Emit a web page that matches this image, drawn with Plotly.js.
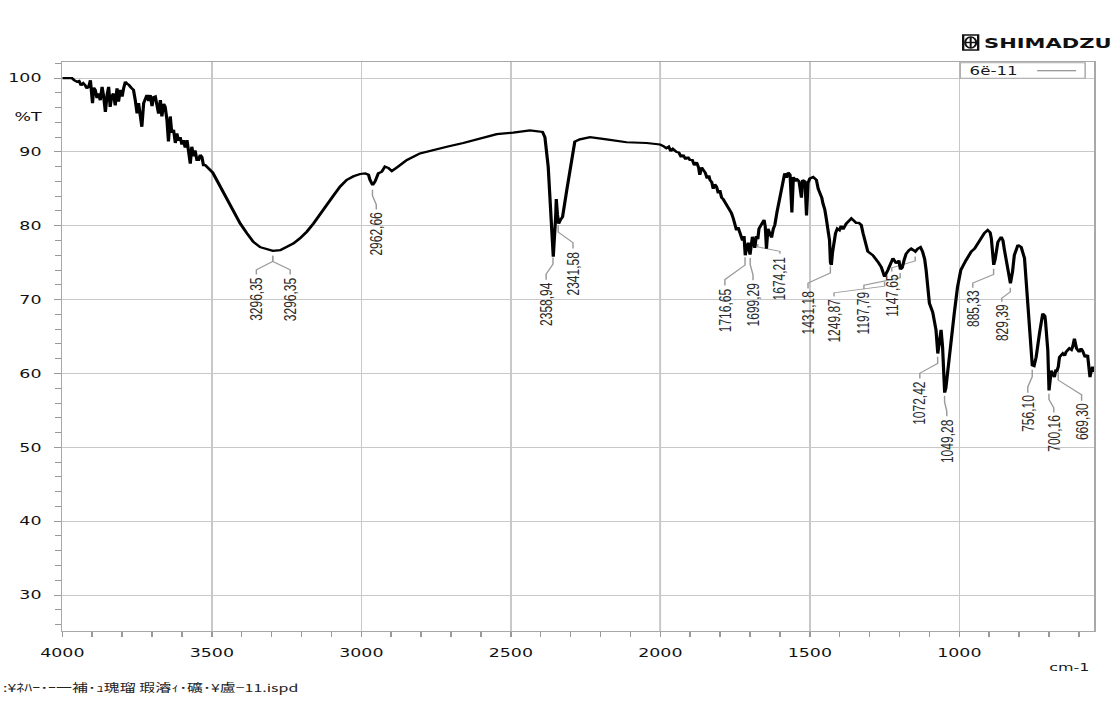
<!DOCTYPE html>
<html><head><meta charset="utf-8">
<script src="https://cdn.plot.ly/plotly-3.0.1.min.js"></script>
<style>
html,body{margin:0;padding:0;background:#fff;overflow:hidden;}
#wrap{width:1113px;height:706px;overflow:hidden;position:relative;background:#fff;}
#plot{width:768px;height:706px;transform:scaleX(1.44922);transform-origin:0 0;}
</style></head><body>
<div id="wrap"><div id="plot"></div></div>
<script>
// ---------------- data (by region) ----------------
const wnA = [4000,3968,3960,3951,3944,3937,3930,3923,3918,3912,3906,3903,3899,3895,3890,3884,3879,3873,3867,3862,
             3856,3850,3845,3840,3835,3829,3823,3817,3812,3806,3800,3795,3789,3783,3778,3770,3762,3756,3750,3745,
             3739,3734,3728,3722,3717,3711,3706,3700,3695,3689,3684,3678,3672,3667,3661,3656,3650,3645,3639,3634,
             3628,3622,3617,3611,3606,3600,3595,3589,3583,3578,3572,3567,3561,3556,3550,3544,3539,3533,3528,3522,
             3514,3505,3497,3489];
const tA  = [100.0,100.0,99.7,99.5,99.6,99.0,99.3,99.0,98.6,98.8,99.7,98.0,96.6,98.7,98.4,97.3,97.9,97.0,98.8,97.6,
             95.4,97.8,98.8,96.1,97.5,97.9,96.3,98.6,96.8,98.4,97.5,98.6,99.5,99.2,99.1,98.7,98.4,97.0,95.2,96.6,
             94.8,93.4,96.6,97.2,97.7,96.9,97.7,96.2,97.4,97.5,96.6,95.2,97.0,94.8,96.5,96.1,94.3,91.4,94.8,92.6,
             93.0,91.2,92.5,91.5,92.0,91.0,91.6,90.6,91.6,90.2,88.4,90.7,89.4,90.2,88.9,88.9,89.6,89.3,88.2,88.2,
             87.9,87.5,87.2,86.6];
const wnB = [3472,3450,3427,3405,3383,3361,3338,3316,3296,3271,3249,3227,3205,3182,3160,3138,3115,3093,3071,3049,
             3026,3004,2987,2976,2971,2962,2954,2943,2932,2921,2909,2898,2881,2848,2804,2759,2714,2659,2603,2547,
             2492,2436,2394,2386,2375,2367,2358,2350,2348,2344,2340,2334,2327,2313,2297,2286,2269,2235,2180,2113,
             2046,2001];
const tB  = [85.3,83.5,81.9,80.3,79.0,77.8,77.1,76.8,76.6,76.7,77.1,77.6,78.3,79.2,80.3,81.6,82.8,84.1,85.3,86.2,
             86.7,87.0,87.1,86.9,86.2,85.5,86.0,87.1,87.3,88.0,87.8,87.4,87.9,88.9,89.8,90.3,90.7,91.2,91.8,92.4,
             92.6,92.9,92.7,92.0,88.0,81.2,75.8,81.2,83.6,81.5,80.3,80.8,81.2,84.8,88.9,91.4,91.7,92.0,91.7,91.3,
             91.2,91.0];
const wnC = [1990,1980,1972,1965,1958,1946,1938,1930,1924,1915,1908,1901,1893,1886,1879,1872,1868,1862,1857,1850,
             1843,1838,1834,1828,1823,1818,1812,1806,1801,1795,1790,1784,1779,1773,1767,1762,1756,1750,1745,1740,
             1734,1728,1725,1720,1716,1711,1706,1700,1695,1692,1688,1684,1679,1674,1670,1662,1653,1649,1645,1640,
             1634,1628,1622,1617,1610,1601,1592,1584,1578,1572,1566,1560,1555,1548,1545,1536,1528,1524,1516,1511,
             1506,1500,1489,1478,1472,1467,1460,1456,1450,1445,1438,1434,1431,1428,1424,1418,1414,1408,1401,1395,
             1389,1378];
const tC  = [90.8,90.5,90.7,90.1,90.4,90.0,89.9,89.3,89.6,89.0,89.3,88.9,88.9,88.2,88.6,87.9,86.9,87.9,87.6,87.2,
             86.4,86.8,86.2,85.9,85.0,85.6,85.3,84.4,84.8,83.8,83.6,83.2,82.8,82.5,81.9,81.7,81.0,80.2,79.4,79.8,
             79.2,78.3,78.0,78.6,76.0,77.0,77.7,76.1,77.5,78.5,78.0,77.0,78.6,78.2,79.6,80.3,80.8,79.9,76.9,79.6,
             79.0,78.4,79.6,80.1,81.8,83.5,85.6,87.1,86.5,87.2,86.9,81.8,86.6,86.0,86.4,86.0,83.8,86.2,86.0,81.4,
             85.8,86.4,86.6,86.2,85.0,84.6,83.8,83.0,82.2,81.0,79.2,78.0,75.0,74.7,76.4,78.4,79.0,79.6,79.4,80.0,
             79.5,80.3];
const wnD = [1370,1361,1353,1345,1336,1328,1322,1317,1306,1289,1280,1272,1261,1250,1239,1230,1222,1211,1202,1197,
             1191,1185,1178,1168,1161,1150,1147,1139,1130,1123,1116,1111,1105,1100,1089,1078,1072,1066,1061,1056,
             1049,1045,1040,1028,1017,1006,995,978,960,949,938,927,916,905,897,893,888,885,880,871,
             860,854,849,838,829,822,816,804,793,782,771,760,756,750,743,732,721,714,712,704,
             700,695,693,688,682,677,673,669,665,654,648,643,632,625,621,615,608,599,593,588,
             579,571,563,558,554,549];
const tD  = [80.6,81.0,80.7,80.4,80.4,80.1,79.0,78.0,76.5,76.0,75.6,75.1,74.4,73.1,74.0,75.0,75.6,74.9,75.3,74.1,
             74.3,75.3,76.2,76.7,76.9,76.6,76.5,76.9,77.1,76.5,75.5,74.0,71.5,69.5,68.3,65.9,62.7,64.5,65.9,63.6,
             57.4,58.0,60.0,64.1,68.1,71.7,74.0,75.3,76.5,76.9,77.6,78.5,79.0,79.4,79.1,78.3,76.0,74.7,75.5,77.8,
             78.5,78.0,76.7,74.4,72.2,73.8,76.0,77.4,77.1,75.6,69.9,64.5,61.1,61.0,62.2,65.4,68.1,67.8,67.2,63.1,
             57.7,59.5,60.4,60.0,59.5,60.5,60.4,60.9,62.2,62.7,62.4,62.9,63.4,63.2,63.6,64.7,63.4,62.9,63.4,63.1,
             62.2,62.5,59.5,60.6,60.9,60.2];
const wavenumber = wnA.concat(wnB, wnC, wnD);
const transmittance = tA.concat(tB, tC, tD);

const seriesName = '6ë-11';
const peakLabels = ['3296,35','3296,35','2962,66','2358,94','2341,58','1716,65','1699,29','1674,21','1431,18','1249,87',
                    '1197,79','1147,65','1072,42','1049,28','885,33','829,39','756,10','700,16','669,30'];
// label placement (wavenumber of label centre, %T of label top)
const labelAtWn = [3351,3238,2950,2382,2292,1784,1690,1600,1506,1419,1319,1226,1132,1042,955,858,771,684,591];
const labelAtT  = [73.2,73.2,82.0,72.5,76.7,71.7,72.4,76.0,71.3,70.2,71.2,73.6,59.1,54.0,71.4,69.5,57.2,54.5,56.1];
const xTickStep = 500, xMinorStep = 100, yTickStep = 10, yMinorStep = 2;
const xRange = [4000, 549], yRange = [25.13, 102.17];

// ---------------- layout constants ----------------
const SX = 1113/768;
const W = 768, H = 706;
const M = {l: 62/SX, r: 19/SX, t: 62, b: 75};
const plotH = H - M.t - M.b;
const tPerPx = (yRange[1]-yRange[0]) / plotH;

function interpT(w){
  for (let i=0;i<wavenumber.length-1;i++){
    const a=wavenumber[i], b=wavenumber[i+1];
    if (w<=a && w>=b){ const f=(a-w)/(a-b); return transmittance[i]+f*(transmittance[i+1]-transmittance[i]); }
  }
  return transmittance[transmittance.length-1];
}

// leader lines from each peak to its label
const lx=[], ly=[];
peakLabels.forEach((txt,i)=>{
  const p = parseFloat(txt.replace(',', '.'));
  const pt = interpT(p);
  const aT = pt - 5*tPerPx;
  const dT = labelAtT[i] + 1.5*tPerPx;
  const gap = (aT - dT)/tPerPx;
  const bT = aT - Math.min(8, gap*0.3)*tPerPx;
  const cT = dT + Math.min(6, gap*0.25)*tPerPx;
  lx.push(p,p,labelAtWn[i],labelAtWn[i],null);
  ly.push(aT,bT,cT,dT,null);
});

const traces = [
  {x: lx, y: ly, mode:'lines', line:{color:'#9a9a9a', width:1}, hoverinfo:'skip', showlegend:false},
  {x: wavenumber, y: transmittance, mode:'lines', name: seriesName, line:{color:'#000', width:2.2}, showlegend:false}
];

const tickFont = {family:'DejaVu Sans, sans-serif', size:12, color:'#111'};
const ann = [];
peakLabels.forEach((txt,i)=>{
  ann.push({x: labelAtWn[i], y: labelAtT[i], xref:'x', yref:'y', text: txt, showarrow:false,
    textangle:-90, xanchor:'center', yanchor:'top', borderpad:0,
    font:{family:'Liberation Sans, Arial, sans-serif', size:12, color:'#2a2a2a'}});
});
const pxX = px => (px-62)/1032;
const pxY = py => (631-py)/569;
ann.push({xref:'paper', yref:'y', x:0, y:94.7, xshift:-12, xanchor:'right', yanchor:'middle', text:'%T', showarrow:false, font:tickFont});
ann.push({xref:'paper', yref:'paper', x:pxX(1093), y:pxY(667), xanchor:'right', yanchor:'middle', text:'cm-1', showarrow:false, font:{family:'DejaVu Sans, sans-serif', size:11, color:'#1a1a1a'}});
ann.push({xref:'paper', yref:'paper', x:pxX(0), y:pxY(687), xanchor:'left', yanchor:'middle', text:':¥ﾈﾊｰ･ｰ一補･ｭ瑰瑠 瑕濬ｨ･礦･¥盧−11.ispd', showarrow:false, font:{family:'Noto Sans CJK JP, sans-serif', size:11, color:'#222'}});
ann.push({xref:'paper', yref:'paper', x:pxX(967), y:pxY(70.7), xanchor:'left', yanchor:'middle', text: seriesName, showarrow:false, font:{family:'DejaVu Sans, sans-serif', size:11.5, color:'#1a1a1a'}});
ann.push({xref:'paper', yref:'paper', x:pxX(981), y:pxY(42.5), xanchor:'left', yanchor:'middle', text:'<b>SHIMADZU</b>', showarrow:false, font:{family:'DejaVu Sans, sans-serif', size:14.5, color:'#111'}});

const shapes = [
  {type:'line', xref:'x', yref:'paper', x0:2000, x1:2000, y0:0, y1:1, line:{color:'#8a8a8a', width:1}, layer:'below'},
  {type:'rect', xref:'paper', yref:'paper', x0:pxX(960), x1:pxX(1085), y0:pxY(78.3), y1:pxY(62.7), line:{color:'#a8a8a8', width:1}, fillcolor:'#fff'},
  {type:'line', xref:'paper', yref:'paper', x0:pxX(1037), x1:pxX(1076), y0:pxY(70.7), y1:pxY(70.7), line:{color:'#777', width:1}},
  {type:'rect', xref:'paper', yref:'paper', x0:pxX(963), x1:pxX(978), y0:pxY(50), y1:pxY(35), line:{color:'#111', width:1.6}, fillcolor:'#fff'},
  {type:'circle', xref:'paper', yref:'paper', x0:pxX(965), x1:pxX(976), y0:pxY(48), y1:pxY(37), line:{color:'#111', width:1.5}},
  {type:'line', xref:'paper', yref:'paper', x0:pxX(970.5), x1:pxX(970.5), y0:pxY(48), y1:pxY(37), line:{color:'#111', width:1.4}},
  {type:'line', xref:'paper', yref:'paper', x0:pxX(965), x1:pxX(976), y0:pxY(42.5), y1:pxY(42.5), line:{color:'#111', width:1.4}}
];

const layout = {
  width: W, height: H, margin: M, paper_bgcolor:'#fff', plot_bgcolor:'#fff',
  showlegend:false, hovermode:false,
  xaxis: {range: xRange, autorange:false, tickmode:'linear', tick0:0, dtick:xTickStep,
    ticks:'outside', ticklen:5, tickcolor:'#999', tickwidth:1,
    showgrid:true, gridcolor:'#c8c8c8', gridwidth:1, zeroline:false,
    showline:true, linecolor:'#a8a8a8', linewidth:1, mirror:true,
    tickfont: tickFont, ticklabelstandoff:6,
    minor:{tickmode:'linear', tick0:0, dtick:xMinorStep, ticks:'outside', ticklen:5, tickcolor:'#999', showgrid:false}},
  yaxis: {range: yRange, autorange:false, tickmode:'linear', tick0:0, dtick:yTickStep,
    ticks:'outside', ticklen:5, tickcolor:'#999', tickwidth:1,
    showgrid:true, gridcolor:'#c8c8c8', gridwidth:1, zeroline:false,
    showline:true, linecolor:'#a8a8a8', linewidth:1, mirror:true,
    tickfont: tickFont, ticklabelstandoff:6,
    minor:{tickmode:'linear', tick0:0, dtick:yMinorStep, ticks:'outside', ticklen:4, tickcolor:'#999', showgrid:false}},
  annotations: ann, shapes: shapes
};
Plotly.newPlot('plot', traces, layout, {staticPlot:true, displayModeBar:false});
</script>
</body></html>
